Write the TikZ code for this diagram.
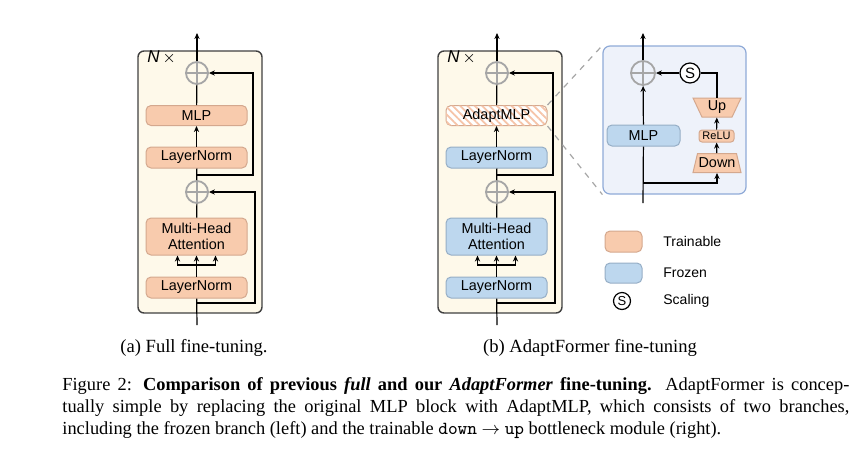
\documentclass[tikz,border=0pt]{standalone}
\usepackage{fontspec}
\setmainfont{Liberation Serif}
\setsansfont{Liberation Sans}
\usetikzlibrary{positioning,shapes.geometric,patterns.meta,arrows.meta}

\definecolor{trainfill}{RGB}{248,203,173}
\definecolor{trainline}{RGB}{212,168,142}
\definecolor{frozenfill}{RGB}{189,215,238}
\definecolor{frozenline}{RGB}{150,174,198}
\definecolor{blockfill}{RGB}{254,249,234}
\definecolor{blockline}{RGB}{64,64,64}
\definecolor{panelfill}{RGB}{238,242,250}
\definecolor{panelline}{RGB}{143,170,215}
\definecolor{plusgray}{RGB}{166,166,166}
\definecolor{hatch}{RGB}{246,196,168}

\tikzset{
  box/.style={rectangle, rounded corners=2.5pt, draw, line width=0.5pt, inner sep=0pt,
    minimum width=50.5pt, minimum height=10pt, align=center,
    font=\sffamily\fontsize{7.2}{8.2}\selectfont},
  train/.style={box, fill=trainfill, draw=trainline},
  frozen/.style={box, fill=frozenfill, draw=frozenline},
  hatched/.style={box, draw=trainline, fill=white,
    postaction={pattern={Lines[angle=-45,distance=2.6pt,line width=0.9pt]}, pattern color=hatch}},
  block/.style={rectangle, rounded corners=3pt, draw=blockline, fill=blockfill, line width=0.7pt,
    minimum width=62pt, minimum height=131pt, inner sep=0pt},
  plusnode/.style={circle, draw=plusgray, line width=0.9pt, fill=blockfill, minimum size=11pt,
    inner sep=0pt, path picture={\draw[plusgray, line width=0.9pt]
      (path picture bounding box.north) -- (path picture bounding box.south)
      (path picture bounding box.west) -- (path picture bounding box.east);}},
  scalenode/.style={circle, draw, line width=0.6pt, fill=white, minimum size=10pt, inner sep=0pt,
    font=\sffamily\fontsize{7.5}{8}\selectfont},
  trap/.style={trapezium, trapezium stretches=true, trapezium angle=67, minimum width=24pt,
    minimum height=9.5pt, inner sep=0pt, draw=trainline, fill=trainfill, line width=0.5pt,
    font=\sffamily\fontsize{7.2}{8}\selectfont},
  link/.style={line width=0.6pt},
  nlabel/.style={inner sep=0pt, font=\sffamily\fontsize{8.5}{9}\selectfont},
  keytext/.style={inner sep=0pt, anchor=west, font=\sffamily\fontsize{7}{8}\selectfont},
  subcap/.style={inner sep=0pt, font=\fontsize{9.3}{11}\selectfont}
}

\begin{document}
\begin{tikzpicture}[x=0.5pt, y=-0.5pt, >={Stealth[length=3pt,width=2.6pt]}]
\useasboundingbox (0,0) rectangle (868,462);

% (a) full fine-tuning
\node[block] (blockA) at (200,182) {};
\node[nlabel, anchor=west] (nA) at (147,57) {\itshape N\upshape\,$\times$};
\node[plusnode] (plusA2) at (197,73) {};
\node[train] (mlpA) at (196.5,115.5) {MLP};
\node[train, minimum height=10.5pt] (lnA2) at (196.5,157.5) {LayerNorm};
\node[plusnode] (plusA1) at (197,192) {};
\node[train, minimum height=18.5pt] (mhaA) at (196.5,236.5) {Multi-Head\\Attention};
\node[train, minimum height=10.5pt] (lnA1) at (196.5,287.5) {LayerNorm};
\coordinate (inA) at (197,325);
\coordinate (outA) at (197,33);
\coordinate (resA1) at (197,303);
\coordinate (resA2) at (197,175);
\coordinate (forkA) at (197,265);
\draw[link] (inA) -- (lnA1);
\draw[link,->] (lnA1) -- (mhaA);
\draw[link,->] (forkA) -| ([xshift=-9.5pt]mhaA.south);
\draw[link,->] (forkA) -| ([xshift=9.5pt]mhaA.south);
\draw[link] (mhaA) -- (plusA1);
\draw[link] (plusA1) -- (lnA2);
\draw[link,->] (lnA2) -- (mlpA);
\draw[link] (mlpA) -- (plusA2);
\draw[link,->] (plusA2) -- (outA);
\draw[link,->] (resA1) -- ++(58,0) |- (plusA1);
\draw[link,->] (resA2) -- ++(56,0) |- (plusA2);

% (b) AdaptFormer fine-tuning
\node[block] (blockB) at (500,182) {};
\node[nlabel, anchor=west] (nB) at (447,57) {\itshape N\upshape\,$\times$};
\node[plusnode] (plusB2) at (497,73) {};
\node[hatched] (amlpB) at (496.5,115.5) {AdaptMLP};
\node[frozen, minimum height=10.5pt] (lnB2) at (496.5,157.5) {LayerNorm};
\node[plusnode] (plusB1) at (497,192) {};
\node[frozen, minimum height=18.5pt] (mhaB) at (496.5,236.5) {Multi-Head\\Attention};
\node[frozen, minimum height=10.5pt] (lnB1) at (496.5,287.5) {LayerNorm};
\coordinate (inB) at (497,325);
\coordinate (outB) at (497,33);
\coordinate (resB1) at (497,303);
\coordinate (resB2) at (497,175);
\coordinate (forkB) at (497,265);
\draw[link] (inB) -- (lnB1);
\draw[link,->] (lnB1) -- (mhaB);
\draw[link,->] (forkB) -| ([xshift=-9.5pt]mhaB.south);
\draw[link,->] (forkB) -| ([xshift=9.5pt]mhaB.south);
\draw[link] (mhaB) -- (plusB1);
\draw[link] (plusB1) -- (lnB2);
\draw[link,->] (lnB2) -- (amlpB);
\draw[link] (amlpB) -- (plusB2);
\draw[link,->] (plusB2) -- (outB);
\draw[link,->] (resB1) -- ++(58,0) |- (plusB1);
\draw[link,->] (resB2) -- ++(56,0) |- (plusB2);

% AdaptMLP detail
\node[rectangle, rounded corners=3.5pt, draw=panelline, fill=panelfill, line width=0.6pt,
  minimum width=71.5pt, minimum height=74pt, inner sep=0pt] (panelC) at (674.5,120) {};
\draw[plusgray, dashed, line width=0.6pt] (amlpB.north east) -- (panelC.north west);
\draw[plusgray, dashed, line width=0.6pt] (amlpB.south east) -- (panelC.south west);
\node[plusnode, fill=panelfill, minimum size=12pt] (plusC) at (643,73) {};
\node[scalenode] (sC) at (690,73) {S};
\node[frozen, minimum width=36.5pt, minimum height=10.5pt] (mlpC) at (643.5,135.5) {MLP};
\node[trap, shape border rotate=180] (upC) at (717,107.5) {Up};
\node[train, minimum width=17.5pt, minimum height=6pt, rounded corners=1.5pt,
  font=\sffamily\fontsize{5.5}{6}\selectfont] (reluC) at (716.5,136) {ReLU};
\node[trap] (downC) at (717,163) {Down};
\coordinate (inC) at (643,203);
\coordinate (outC) at (643,33);
\coordinate (brC) at (643,183);
\draw[link] (inC) -- (mlpC);
\draw[link,->] (mlpC) -- (plusC);
\draw[link,->] (plusC) -- (outC);
\draw[link,->] (brC) -| (downC);
\draw[link,->] (downC) -- (reluC);
\draw[link,->] (reluC) -- (upC);
\draw[link] (upC) |- (sC);
\draw[link,->] (sC) -- (plusC);

% legend
\node[train, minimum width=18.5pt, minimum height=10.5pt] (trainKey) at (623.5,241.5) {};
\node[frozen, minimum width=18.5pt, minimum height=10pt] (frozenKey) at (623.5,273) {};
\node[scalenode, minimum size=8.5pt, font=\sffamily\fontsize{6.5}{7}\selectfont] (scaleKey) at (622,301) {S};
\node[keytext] (trainTxt) at (663,241.5) {Trainable};
\node[keytext] (frozenTxt) at (663,273) {Frozen};
\node[keytext] (scaleTxt) at (663,301) {Scaling};

% captions
\node[subcap] (capA) at (194,348) {(a) Full fine-tuning.};
\node[subcap] (capB) at (590,348) {(b) AdaptFormer fine-tuning};
\node[anchor=north west, inner sep=0pt, text width=393.5pt, align=justify,
  font=\fontsize{9.2}{11}\selectfont] (caption) at (62,377)
  {Figure 2: \textbf{Comparison of previous \textit{full} and our \textit{AdaptFormer} fine-tuning.}
   AdaptFormer is concep-\linebreak tually simple by replacing the original MLP block with
   AdaptMLP, which consists of two branches,\linebreak including the frozen branch (left) and the
   trainable \texttt{down} $\rightarrow$ \texttt{up} bottleneck module (right).};
\end{tikzpicture}
\end{document}
